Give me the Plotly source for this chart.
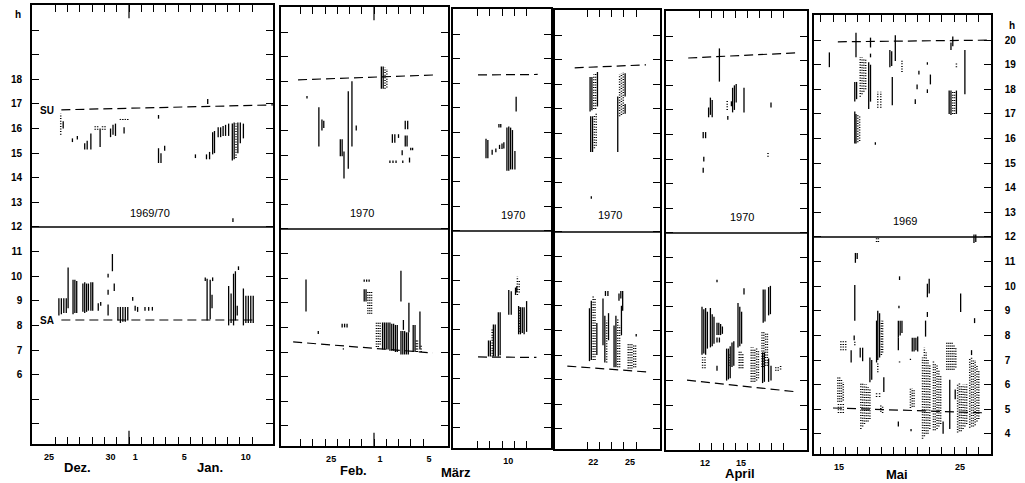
import plotly.graph_objects as go

W, H = 1025, 483

# ---------------- DATA ----------------
# Each bar: (day position, start hour, end hour).  Day d is centred on d.
# Panel 1: Dez. 1969 / Jan. 1970 (Dec days written as day-31, so 25 Dez = -6)
dez_jan_solid = [
    (-4.85, 16.0, 16.3), (-4.1, 15.45, 15.6), (-3.7, 15.55, 15.7),
    (-3.1, 15.15, 15.4), (-2.9, 15.15, 15.5), (-2.6, 15.15, 15.8),
    (-1.85, 15.25, 16.0), (-1.0, 15.65, 16.0), (-0.8, 15.75, 16.15), (-0.6, 15.7, 16.2),
    (0.1, 15.8, 16.05), (2.9, 16.4, 16.55), (2.9, 14.6, 15.2), (3.1, 14.6, 15.0), (3.4, 15.1, 15.3),
    (5.9, 14.8, 14.95), (6.9, 17.0, 17.2), (6.8, 14.75, 14.95), (7.05, 14.75, 15.05),
    (7.3, 14.95, 15.85), (7.45, 15.0, 15.9), (7.75, 15.65, 16.05), (7.95, 15.65, 16.05),
    (8.15, 15.7, 16.1), (8.35, 15.7, 16.15), (8.6, 15.7, 16.2),
    (8.9, 14.7, 16.2), (9.05, 14.75, 16.25), (9.35, 15.0, 16.25), (9.55, 15.4, 16.25), (9.8, 15.6, 16.2),
    (8.95, 12.2, 12.35),
    (-5.2, 8.4, 9.1), (-5.0, 8.45, 9.1), (-4.8, 8.5, 9.1), (-4.6, 8.5, 9.1), (-4.45, 8.7, 10.35),
    (-4.05, 8.45, 9.85), (-3.9, 8.5, 9.85), (-3.75, 8.5, 9.8),
    (-3.25, 8.55, 9.7), (-3.1, 8.5, 9.75), (-2.95, 8.55, 9.7), (-2.8, 8.6, 9.7), (-2.6, 8.6, 9.75), (-2.45, 8.6, 9.75),
    (-2.0, 8.6, 8.9), (-1.8, 8.8, 8.95), (-1.2, 8.4, 8.85), (-1.2, 9.25, 9.45), (-1.2, 9.95, 10.1),
    (-0.85, 10.2, 10.9), (-0.7, 9.4, 9.7),
    (-0.4, 8.2, 8.75), (-0.2, 8.1, 8.75), (0.0, 8.15, 8.75), (0.2, 8.15, 8.75), (0.4, 8.2, 8.75),
    (0.8, 9.0, 9.15), (1.0, 8.6, 8.8), (1.2, 8.55, 8.75), (1.8, 8.6, 8.75), (2.1, 8.6, 8.75), (2.4, 8.6, 8.75),
    (6.7, 9.8, 9.95), (6.85, 8.2, 9.9), (7.1, 8.25, 9.85), (7.3, 9.8, 9.95), (7.25, 8.7, 9.25),
    (8.6, 8.0, 9.6), (8.8, 8.1, 9.3), (9.0, 8.0, 10.1), (9.15, 8.2, 10.2), (9.3, 8.4, 8.8), (9.4, 10.25, 10.4),
    (9.8, 8.0, 9.5), (10.0, 8.1, 9.2), (10.2, 8.1, 9.2), (10.4, 8.1, 9.2), (10.6, 8.1, 9.2),
]
dez_jan_dotted = [
    (-5.05, 15.75, 16.6), (-2.25, 15.95, 16.1), (-2.05, 15.95, 16.1), (-1.65, 15.95, 16.1), (-1.45, 15.95, 16.1),
    (-0.2, 16.35, 16.45), (0.0, 16.35, 16.45), (0.2, 16.35, 16.45), (0.4, 16.35, 16.45), (9.2, 14.8, 16.2),
]
dez_jan_su_x, dez_jan_su_h = [-5.0, 12.2], [16.76, 16.96]
dez_jan_sa_x, dez_jan_sa_h = [-5.0, 10.6], [8.22, 8.22]
dez_jan_days, dez_jan_labels = [-6, -1, 1, 5, 10], ["25", "30", "1", "5", "10"]

# Panel 2: Feb./März 1970 (Feb days written as day-28, so 25 Feb = -3)
feb_solid = [
    (-4.97, 17.3, 17.4), (-4.0, 15.35, 16.95), (-3.75, 16.0, 16.45), (-3.6, 16.1, 16.4),
    (-2.25, 14.95, 15.65), (-2.1, 14.95, 15.65), (-1.95, 14.05, 15.15), (-1.6, 14.45, 17.6),
    (-1.3, 15.35, 18.0), (-0.95, 16.0, 16.2), (1.1, 17.7, 18.6), (1.25, 17.7, 18.6),
    (2.0, 15.5, 15.85), (2.2, 15.5, 15.85), (2.5, 15.7, 15.85),
    (1.8, 14.68, 14.78), (2.05, 14.68, 14.78), (2.3, 14.68, 14.78), (2.85, 14.68, 14.78),
    (3.05, 16.05, 16.4), (3.25, 16.05, 16.4), (3.05, 15.35, 15.8), (3.2, 15.35, 15.8),
    (2.8, 15.0, 15.2), (3.4, 14.7, 14.9), (3.5, 15.2, 15.3), (3.65, 15.2, 15.3),
    (-5.05, 8.65, 9.95), (-4.05, 7.73, 7.85), (-2.1, 8.0, 8.15), (-1.9, 8.0, 8.15), (-1.7, 8.0, 8.15),
    (-2.0, 7.1, 7.15), (-0.3, 9.85, 9.95), (-0.1, 9.85, 9.95), (0.1, 9.85, 9.95),
    (-0.3, 9.05, 9.55), (-0.15, 9.05, 9.55),
    (1.2, 7.1, 8.2), (1.35, 7.1, 8.2), (1.5, 7.1, 8.2), (1.65, 7.1, 8.2), (1.8, 7.05, 8.2),
    (1.95, 7.05, 8.15), (2.1, 7.05, 8.15), (2.25, 7.0, 8.1), (2.4, 7.0, 8.1),
    (2.7, 9.05, 10.3), (2.7, 6.9, 7.85), (2.85, 6.9, 7.85), (3.0, 6.9, 7.85), (3.15, 6.9, 7.8), (3.3, 6.9, 7.8),
    (2.9, 7.9, 8.3), (3.35, 7.8, 9.0), (3.7, 7.0, 8.1), (3.85, 7.0, 8.1), (4.25, 7.1, 8.65),
]
feb_dotted = [
    (1.4, 17.7, 18.55), (1.55, 17.75, 18.5),
    (0.0, 8.55, 9.5), (0.15, 8.55, 9.5), (0.3, 8.55, 9.5),
    (0.7, 7.2, 8.2), (0.85, 7.2, 8.2), (1.0, 7.3, 8.2),
    (3.95, 7.0, 7.5), (4.05, 7.0, 7.5), (4.35, 7.0, 7.3),
]
feb_su_x, feb_su_h = [-5.7, 5.5], [18.06, 18.26]
feb_sa_x, feb_sa_h = [-6.1, 5.3], [7.41, 6.96]
feb_days, feb_labels = [-3, 1, 5], ["25", "1", "5"]

# Panel 3: März 1970
mar1_solid = [
    (8.2, 14.95, 15.75), (8.35, 14.95, 15.7), (8.7, 15.1, 15.3), (9.0, 15.2, 15.35),
    (9.25, 16.2, 16.35), (9.4, 16.2, 16.35), (9.3, 15.33, 15.5), (9.5, 15.33, 15.55), (9.65, 15.35, 15.6),
    (9.9, 14.45, 16.2), (10.05, 14.45, 16.25), (10.2, 14.5, 16.2), (10.35, 14.5, 16.1),
    (10.55, 14.5, 15.25), (10.65, 16.85, 17.45),
    (8.4, 6.9, 7.55), (8.55, 6.9, 7.55), (8.8, 6.9, 8.2), (8.95, 6.9, 8.2),
    (9.2, 6.9, 8.7), (9.35, 6.95, 8.7), (10.05, 8.6, 9.6), (10.25, 8.6, 9.55),
    (10.6, 9.4, 9.7), (10.7, 9.5, 9.75),
    (10.85, 7.8, 8.95), (11.0, 7.8, 8.9), (11.15, 7.85, 8.9), (11.3, 7.8, 8.9), (11.5, 7.9, 9.15),
]
mar1_dotted = [(8.7, 6.9, 8.0), (10.75, 9.4, 10.15), (10.9, 9.5, 10.0), (10.95, 7.9, 8.9)]
mar1_su_x, mar1_su_h = [7.55, 12.4], [18.34, 18.36]
mar1_sa_x, mar1_sa_h = [7.55, 12.3], [6.88, 6.86]
mar1_days, mar1_labels = [10], ["10"]

# Panel 4: März 1970
mar2_solid = [
    (21.75, 16.9, 18.3), (21.9, 16.95, 18.3), (22.35, 17.1, 18.5),
    (21.8, 15.25, 16.7), (21.95, 15.25, 16.7), (21.85, 13.35, 13.45),
    (24.0, 15.25, 17.5), (24.6, 17.5, 18.45), (24.6, 16.8, 17.2),
    (21.7, 6.75, 8.9), (21.85, 6.8, 9.2), (22.3, 7.0, 8.3), (22.8, 7.4, 9.3), (22.95, 6.7, 8.6),
    (23.25, 7.6, 8.7), (23.0, 9.4, 9.6), (23.2, 9.4, 9.6), (23.7, 6.5, 8.2), (23.85, 6.5, 8.6),
    (24.3, 7.8, 9.0), (24.4, 8.8, 9.6), (24.1, 9.2, 9.5), (24.25, 9.3, 9.6), (25.5, 7.75, 7.85),
]
mar2_dotted = [
    (22.05, 17.0, 18.4), (22.2, 17.0, 18.45), (22.1, 15.4, 16.75), (22.25, 15.5, 16.8),
    (24.15, 16.7, 18.4), (24.3, 16.75, 18.45), (24.45, 16.8, 18.5),
    (22.0, 6.8, 9.4), (22.15, 6.8, 9.3), (23.1, 6.7, 8.4), (24.0, 6.5, 8.5), (24.15, 6.5, 8.2),
    (24.85, 6.45, 7.5), (25.0, 6.45, 7.5), (25.15, 6.45, 7.5), (25.3, 6.5, 7.45), (25.45, 6.5, 7.4),
]
mar2_su_x, mar2_su_h = [20.5, 26.3], [18.67, 18.79]
mar2_sa_x, mar2_sa_h = [19.9, 26.4], [6.55, 6.31]
mar2_days, mar2_labels = [22, 25], ["22", "25"]

# Panel 5: April 1970
apr_solid = [
    (11.85, 15.85, 16.1), (12.05, 15.85, 16.1), (11.9, 14.9, 15.1), (11.85, 14.45, 14.65),
    (12.3, 16.7, 17.1), (12.45, 16.8, 17.5), (12.6, 16.7, 17.4), (13.2, 18.15, 19.5),
    (14.2, 17.15, 17.35), (13.9, 16.6, 16.75), (14.3, 16.9, 17.9), (14.45, 17.0, 18.0), (14.6, 17.3, 18.05),
    (15.25, 16.9, 17.9), (17.5, 17.1, 17.3),
    (11.75, 7.05, 9.0), (11.9, 7.1, 8.9), (12.05, 7.05, 8.95), (12.2, 7.3, 8.8),
    (12.45, 7.35, 8.95), (12.6, 7.4, 8.7), (12.75, 7.5, 8.6),
    (13.0, 7.85, 8.35), (13.15, 7.85, 8.35), (13.3, 7.85, 8.3), (13.45, 7.9, 8.2),
    (13.0, 7.55, 7.75), (13.2, 7.55, 7.75), (13.0, 10.0, 10.1), (13.0, 6.4, 6.6),
    (13.8, 6.0, 7.3), (13.95, 6.05, 7.3), (14.1, 6.1, 7.4), (14.25, 6.55, 7.55), (14.4, 6.6, 7.6),
    (14.75, 7.35, 9.15), (14.9, 7.4, 9.0), (15.05, 7.5, 8.8), (15.25, 9.5, 9.75),
    (16.85, 8.35, 9.7), (17.0, 8.4, 9.7), (17.3, 8.65, 9.8), (17.45, 8.7, 9.85),
    (16.8, 5.9, 7.15), (16.95, 5.95, 7.15), (17.3, 5.95, 6.9), (17.5, 6.0, 6.6),
]
apr_dotted = [
    (13.85, 17.0, 17.4), (17.25, 15.1, 15.25),
    (11.8, 6.5, 6.95), (12.0, 6.5, 6.95), (14.0, 6.6, 7.1),
    (14.85, 6.5, 7.2), (15.0, 6.5, 7.2), (15.15, 6.5, 7.1),
    (15.85, 5.95, 7.35), (16.0, 5.95, 7.35), (16.15, 5.95, 7.3), (16.3, 6.0, 7.3), (16.45, 6.1, 7.25),
    (16.75, 6.55, 8.0), (16.9, 6.55, 8.0), (17.05, 6.6, 7.95), (17.2, 6.6, 7.9),
    (17.9, 6.4, 6.6), (18.1, 6.4, 6.6), (18.3, 6.45, 6.6),
]
apr_su_x, apr_su_h = [10.6, 19.7], [19.11, 19.32]
apr_sa_x, apr_sa_h = [10.5, 19.7], [6.02, 5.54]
apr_days, apr_labels = [12, 15], ["12", "15"]

# Panel 6: Mai 1969
mai_solid = [
    (14.2, 18.9, 19.5), (16.4, 19.3, 20.3), (16.3, 17.5, 18.3), (16.45, 17.6, 18.3),
    (16.3, 15.8, 17.1), (16.4, 15.8, 17.0), (17.45, 17.2, 19.1), (17.6, 17.5, 19.0),
    (17.6, 19.3, 19.45), (17.6, 19.7, 20.1), (18.0, 15.75, 15.85),
    (19.2, 18.9, 19.6), (19.35, 18.95, 19.55), (19.4, 17.35, 18.5), (19.65, 19.15, 20.2),
    (21.3, 17.4, 17.6), (21.45, 18.0, 18.2), (21.6, 18.6, 18.75), (22.3, 19.0, 19.1),
    (22.3, 17.85, 18.0), (22.55, 18.2, 18.6), (24.25, 19.6, 19.9),
    (24.1, 17.0, 17.95), (24.25, 16.96, 17.95), (24.7, 17.0, 17.95), (24.4, 19.75, 20.15), (25.4, 17.8, 19.6),
    (26.15, 11.75, 12.1), (26.3, 11.8, 12.1), (16.35, 10.95, 11.35), (16.5, 11.1, 11.35),
    (16.3, 8.6, 10.05), (16.25, 7.8, 8.0), (16.0, 6.9, 7.4), (16.75, 7.1, 7.5), (16.95, 6.95, 7.5),
    (17.55, 6.1, 7.1), (17.7, 6.2, 7.0), (18.1, 6.9, 8.6), (18.2, 7.0, 9.0), (18.35, 7.1, 8.9),
    (18.7, 5.7, 6.3), (19.9, 7.9, 8.6), (20.05, 8.0, 8.6), (20.2, 8.1, 8.6), (19.9, 7.4, 7.9),
    (19.95, 9.1, 9.2), (20.0, 10.25, 10.4), (19.9, 4.3, 4.5), (20.9, 7.0, 7.05), (20.95, 4.1, 4.2),
    (21.05, 7.35, 7.9), (21.2, 7.35, 7.9), (21.35, 7.4, 7.9), (21.5, 7.35, 7.95),
    (22.15, 7.95, 8.6), (22.3, 9.55, 10.1), (22.45, 9.7, 10.3), (22.3, 8.75, 8.95),
    (23.6, 4.0, 4.5), (24.15, 4.2, 6.2), (24.6, 5.4, 5.8), (25.05, 8.95, 9.7),
    (25.95, 7.2, 7.4), (26.2, 8.5, 8.7),
]
mai_dotted = [
    (16.55, 15.85, 17.0), (16.7, 15.9, 16.95),
    (16.75, 17.7, 19.3), (16.9, 17.8, 19.3), (17.05, 17.9, 19.25), (17.2, 18.0, 19.2),
    (18.2, 17.25, 17.9), (18.45, 17.25, 17.9), (20.2, 18.7, 19.2),
    (24.4, 17.0, 17.95), (24.55, 17.0, 17.9), (24.7, 18.9, 19.1),
    (18.1, 11.8, 12.0), (18.25, 11.8, 12.0),
    (14.9, 5.3, 6.3), (15.05, 5.3, 6.3), (15.2, 5.3, 6.2), (15.35, 5.35, 6.1),
    (14.95, 4.85, 5.25), (15.15, 4.85, 5.25), (15.35, 4.85, 5.25),
    (15.15, 7.4, 7.8), (15.35, 7.4, 7.8), (15.55, 7.4, 7.8), (16.3, 7.6, 7.8),
    (16.8, 4.2, 6.05), (16.95, 4.3, 6.05), (17.1, 4.4, 6.0), (17.25, 4.5, 6.0), (17.4, 4.5, 5.9), (17.55, 4.6, 5.8),
    (18.5, 7.2, 8.6), (18.6, 7.3, 8.6), (18.2, 6.5, 6.9), (18.1, 5.5, 5.65), (18.35, 5.5, 5.65),
    (18.45, 4.9, 5.15), (18.6, 4.85, 5.15), (20.0, 6.9, 7.0),
    (20.9, 5.05, 5.85), (21.05, 5.1, 5.85), (21.2, 5.1, 5.8),
    (21.9, 3.8, 7.1), (22.05, 3.9, 7.5), (22.2, 4.0, 7.3), (22.35, 4.0, 7.0), (22.5, 4.2, 6.8),
    (22.8, 4.15, 7.0), (22.95, 4.15, 6.9), (23.1, 4.2, 6.8), (23.25, 4.3, 6.6), (23.4, 4.4, 6.4),
    (23.9, 6.6, 7.7), (24.05, 6.6, 7.7), (24.2, 6.6, 7.7), (24.35, 6.6, 7.7), (24.5, 6.6, 7.6), (24.65, 6.7, 7.5),
    (24.8, 4.05, 6.05), (24.95, 4.1, 6.05), (25.1, 4.1, 6.0), (25.25, 4.2, 6.0), (25.4, 4.3, 6.0), (25.55, 4.4, 6.0),
    (25.8, 4.25, 7.1), (25.95, 4.3, 7.1), (26.1, 4.3, 7.0), (26.25, 4.35, 7.0), (26.4, 4.5, 6.8), (26.55, 4.6, 6.6),
]
mai_su_x, mai_su_h = [14.9, 27.5], [19.93, 20.0]
mai_sa_x, mai_sa_h = [14.5, 27.2], [5.05, 4.85]
mai_days, mai_labels = [15, 25], ["15", "25"]

year_labels = ["1969/70", "1970", "1970", "1970", "1970", "1969"]
hour_ticks = list(range(4, 21))

# ---------------- LAYOUT (reference pixel geometry) ----------------
panels = [
    dict(solid=dez_jan_solid, dotted=dez_jan_dotted, su=(dez_jan_su_x, dez_jan_su_h), sa=(dez_jan_sa_x, dez_jan_sa_h),
         days=dez_jan_days, labels=dez_jan_labels, px=(32, 273), shift=0, ref=(0.5, 129, 12.3),
         minor=(-5.5, 10.5), month_edge=0.5, year_pos=(150, 213)),
    dict(solid=feb_solid, dotted=feb_dotted, su=(feb_su_x, feb_su_h), sa=(feb_sa_x, feb_sa_h),
         days=feb_days, labels=feb_labels, px=(281, 448), shift=2, ref=(0.5, 374, 12.25),
         minor=(-5.5, 4.5), month_edge=0.5, year_pos=(362, 213)),
    dict(solid=mar1_solid, dotted=mar1_dotted, su=(mar1_su_x, mar1_su_h), sa=(mar1_sa_x, mar1_sa_h),
         days=mar1_days, labels=mar1_labels, px=(453, 551), shift=4, ref=(9.5, 502, 12.3),
         minor=(7.5, 11.5), month_edge=None, year_pos=(513, 215)),
    dict(solid=mar2_solid, dotted=mar2_dotted, su=(mar2_su_x, mar2_su_h), sa=(mar2_sa_x, mar2_sa_h),
         days=mar2_days, labels=mar2_labels, px=(555, 660), shift=5, ref=(21.5, 587, 12.3),
         minor=(21.5, 25.5), month_edge=None, year_pos=(610, 215)),
    dict(solid=apr_solid, dotted=apr_dotted, su=(apr_su_x, apr_su_h), sa=(apr_sa_x, apr_sa_h),
         days=apr_days, labels=apr_labels, px=(666, 807), shift=6, ref=(11.5, 699, 12.0),
         minor=(11.5, 18.5), month_edge=None, year_pos=(742, 217)),
    dict(solid=mai_solid, dotted=mai_dotted, su=(mai_su_x, mai_su_h), sa=(mai_sa_x, mai_sa_h),
         days=mai_days, labels=mai_labels, px=(814, 991), shift=10, ref=(14.5, 833, 12.1),
         minor=(13.5, 26.5), month_edge=None, year_pos=(905, 221)),
]

Y_RANGE = [3.18, 21.02]
TOP, BOT = 5, 444
FONT = "Liberation Sans, Arial, sans-serif"


def fx(px):
    return min(1.0, max(0.0, px / W))


def fy(py):
    return min(1.0, max(0.0, 1 - py / H))


def segs(bars):
    xs, ys = [], []
    for x, lo, hi in bars:
        xs += [x, x, None]
        ys += [lo, hi, None]
    return xs, ys


def label(txt, px, py, size, bold=False):
    return dict(text=txt, x=fx(px), y=fy(py), xref="paper", yref="paper", showarrow=False,
                xanchor="center", yanchor="middle",
                font=dict(family=FONT, size=size, color="black", weight="bold" if bold else "normal"))


fig = go.Figure()
layout = dict(width=W, height=H, margin=dict(l=0, r=0, t=0, b=0),
              paper_bgcolor="white", plot_bgcolor="white", showlegend=False)
shapes, annotations = [], []

for i, p in enumerate(panels, start=1):
    xa = "x" if i == 1 else f"x{i}"
    ya = "y" if i == 1 else f"y{i}"
    xkey = "xaxis" if i == 1 else f"xaxis{i}"
    ykey = "yaxis" if i == 1 else f"yaxis{i}"
    v0, p0, ppd = p["ref"]
    x0 = v0 + (p["px"][0] - p0) / ppd
    x1 = v0 + (p["px"][1] - p0) / ppd
    top, bot = TOP + p["shift"], BOT + p["shift"]

    sx, sy = segs(p["solid"])
    fig.add_trace(go.Scatter(x=sx, y=sy, mode="lines", xaxis=xa, yaxis=ya,
                             line=dict(color="black", width=1.3), hoverinfo="skip"))
    dx, dy = segs(p["dotted"])
    fig.add_trace(go.Scatter(x=dx, y=dy, mode="lines", xaxis=xa, yaxis=ya,
                             line=dict(color="black", width=1.5, dash="1px,1.6px"), hoverinfo="skip"))
    for line in (p["su"], p["sa"]):
        fig.add_trace(go.Scatter(x=line[0], y=line[1], mode="lines", xaxis=xa, yaxis=ya,
                                 line=dict(color="black", width=1.2, dash="9px,5px"), hoverinfo="skip"))

    n_minor = int(round(p["minor"][1] - p["minor"][0])) + 1
    minor_vals = [p["minor"][0] + k for k in range(n_minor)]
    layout[xkey] = dict(
        domain=[fx(p["px"][0]), fx(p["px"][1])], range=[x0, x1], anchor=ya,
        showline=True, linecolor="black", linewidth=1.6, mirror="ticks",
        showgrid=False, zeroline=False,
        tickmode="array", tickvals=p["days"], ticktext=p["labels"], ticks="",
        tickfont=dict(family=FONT, size=9, color="black", weight="bold"),
        ticklabelstandoff=3,
        minor=dict(tickmode="array", tickvals=minor_vals, ticks="inside", ticklen=7,
                   tickwidth=1, tickcolor="black", showgrid=False),
    )
    if i == 1:
        ytext = ["" if (h < 6 or h > 18) else str(h) for h in hour_ticks]
        side, showlab = "left", True
    elif i == 6:
        ytext = [str(h) for h in hour_ticks]
        side, showlab = "right", True
    else:
        ytext = ["" for h in hour_ticks]
        side, showlab = "left", False
    layout[ykey] = dict(
        domain=[fy(bot), fy(top)], range=Y_RANGE, anchor=xa, side=side,
        showline=True, linecolor="black", linewidth=1.6, mirror="ticks",
        showgrid=False, zeroline=False,
        tickmode="array", tickvals=hour_ticks, ticktext=ytext, showticklabels=showlab,
        ticks="inside", ticklen=7, tickwidth=1, tickcolor="black",
        tickfont=dict(family=FONT, size=10, color="black", weight="bold"),
        ticklabelstandoff=6 if i == 1 else 10,
    )
    # 12 h divider
    shapes.append(dict(type="line", xref=f"{xa} domain", yref=ya, x0=0, x1=1, y0=12, y1=12,
                       line=dict(color="black", width=1.5)))
    # longer tick at month change
    if p["month_edge"] is not None:
        for (ya0, ya1) in ((0, 0.03), (0.97, 1)):
            shapes.append(dict(type="line", xref=xa, yref=f"{ya} domain", x0=p["month_edge"],
                               x1=p["month_edge"], y0=ya0, y1=ya1, line=dict(color="black", width=1.2)))
    annotations.append(label(year_labels[i - 1], p["year_pos"][0], p["year_pos"][1], 11))

months = [("Dez.", 77, 467), ("Jan.", 210, 467), ("Feb.", 353, 470), ("März", 456, 472),
          ("April", 740, 473), ("Mai", 897, 474)]
for txt, px, py in months:
    annotations.append(label(txt, px, py, 13, bold=True))
for txt, px, py in [("SU", 47, 110), ("SA", 47, 320), ("h", 18, 15), ("h", 1012, 26)]:
    annotations.append(label(txt, px, py, 10, bold=True))

layout["shapes"] = shapes
layout["annotations"] = annotations
fig.update_layout(**layout)
# remove the browser's default 8px body margin so the figure sits at the page origin
fig.write_html("out.html", config={"displayModeBar": False},
               post_script="document.body.style.margin='0px';")
